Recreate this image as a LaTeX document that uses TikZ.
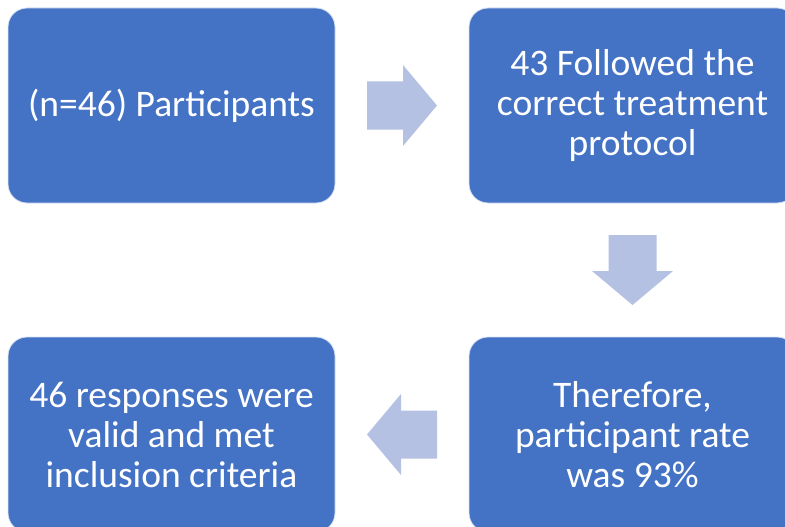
\documentclass[tikz,border=0pt]{standalone}
\usepackage{fontspec}
\setmainfont{Carlito}
\usepackage{tikz}
\usetikzlibrary{positioning,calc}
\definecolor{flowblue}{HTML}{4472C4}
\definecolor{flowtint}{HTML}{B4C1E2}
\tikzset{
  flowbox/.style={fill=flowblue, draw=white!80!flowblue, line width=0.8pt,
    rounded corners=19pt, minimum width=327pt, minimum height=195pt,
    align=center, text=white, inner sep=0pt,
    font=\fontsize{37.5}{40}\selectfont},
  flowarrow/.style={fill=flowtint, draw=none},
  blockarrow/.pic={
    \fill[flowarrow] (-35,-24) -- (1,-24) -- (1,-40.5) -- (35,0)
      -- (1,40.5) -- (1,24) -- (-35,24) -- cycle;
  }
}
\begin{document}
\begin{tikzpicture}[x=1pt, y=-1pt]
  \useasboundingbox (0,0) rectangle (785,527);
  \node[flowbox] (part) at (171.5,105.5) {(n=46) Participants};
  \node[flowbox] (follow) at (632.5,105.5) {43 Followed the\\correct treatment\\protocol};
  \node[flowbox] (rate) at (632.5,434.5) {Therefore,\\participant rate\\was 93\%};
  \node[flowbox] (valid) at (171.5,434.5) {46 responses were\\valid and met\\inclusion criteria};
  % block arrows between the boxes
  \pic at ($(part.east)!0.5!(follow.west)$) {blockarrow};
  \pic[rotate=-90] at ($(follow.south)!0.5!(rate.north)$) {blockarrow};
  \pic[rotate=180] at ($(rate.west)!0.5!(valid.east)$) {blockarrow};
\end{tikzpicture}
\end{document}
